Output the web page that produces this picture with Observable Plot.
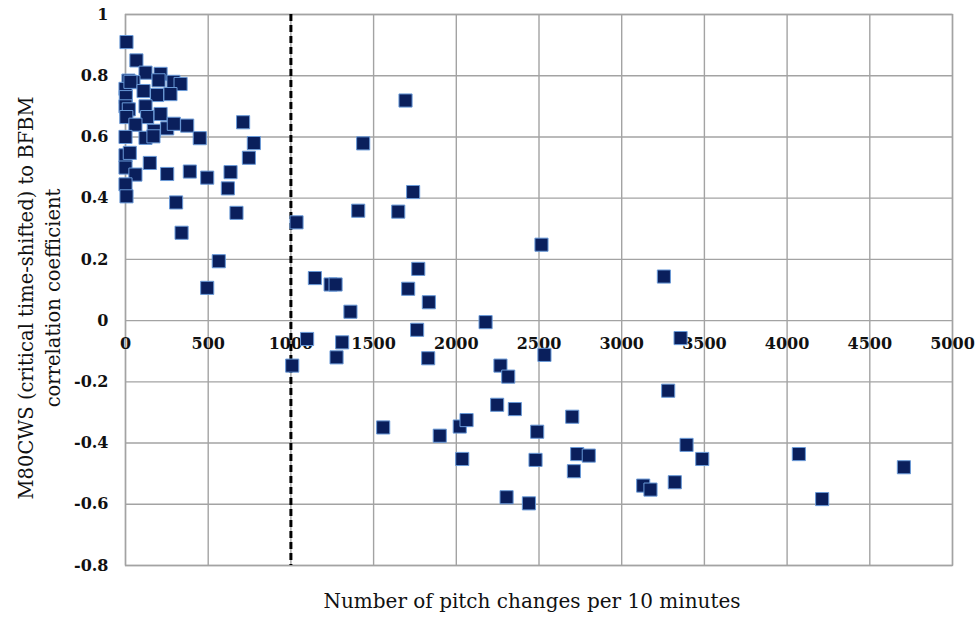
<!DOCTYPE html>
<html>
<head>
<meta charset="utf-8">
<script src="https://cdn.jsdelivr.net/npm/d3@7"></script>
<script src="https://cdn.jsdelivr.net/npm/@observablehq/plot@0.6"></script>
<style>
  html, body { margin: 0; padding: 0; background: #fff; }
</style>
</head>
<body>
<div id="chart"></div>
<script>
// Pitch-change rate per 10 minutes (x) and correlation coefficient (y), one entry per session
const pitchChanges = [
  6, 66, 121, 212, 18, 48, 200, 290, 333, 0, 30, 109, 191, 272, 2, 8, 0, 20, 121, 212,
  131, 5, 60, 171, 252, 292, 373, 0, 121, 169, 449, 711, 776, 746, 0, 26, 147, 0, 60, 252,
  389, 494, 635, 619, 0, 6, 306, 671, 339, 564, 494,
  1034, 1145, 1240, 1270, 1098, 1310, 1276, 1008, 1360, 1407, 1437, 1558,
  1649, 1693, 1709, 1739, 1763, 1770, 1830, 1834,
  1900, 2021, 2036, 2062, 2177, 2247, 2267, 2304, 2314, 2354, 2439, 2479, 2489, 2515, 2533,
  2701, 2711, 2731, 2801, 3130, 3174, 3255, 3281, 3321, 3356, 3392, 3487, 4071, 4212, 4706
];
const correlation = [
  0.91, 0.85, 0.81, 0.806, 0.784, 0.779, 0.785, 0.78, 0.773, 0.757, 0.78, 0.75, 0.737, 0.74, 0.73, 0.69, 0.70, 0.69, 0.70, 0.675,
  0.665, 0.665, 0.64, 0.62, 0.628, 0.643, 0.637, 0.60, 0.597, 0.602, 0.596, 0.648, 0.58, 0.532, 0.54, 0.548, 0.515, 0.50, 0.477, 0.479,
  0.487, 0.467, 0.485, 0.432, 0.445, 0.406, 0.386, 0.352, 0.287, 0.194, 0.107,
  0.321, 0.139, 0.118, 0.118, -0.06, -0.071, -0.12, -0.147, 0.029, 0.359, 0.579, -0.349,
  0.356, 0.719, 0.104, 0.42, -0.03, 0.169, -0.123, 0.06,
  -0.376, -0.346, -0.452, -0.325, -0.005, -0.275, -0.147, -0.577, -0.183, -0.289, -0.597, -0.455, -0.363, 0.248, -0.112,
  -0.314, -0.492, -0.436, -0.441, -0.539, -0.552, 0.144, -0.229, -0.528, -0.057, -0.406, -0.452, -0.436, -0.583, -0.479
];

// Axis ticks and the reference threshold
const xTicks = [0, 500, 1000, 1500, 2000, 2500, 3000, 3500, 4000, 4500, 5000];
const yTicks = [-0.8, -0.6, -0.4, -0.2, 0, 0.2, 0.4, 0.6, 0.8, 1];
const threshold = [1000];

const xLabel = "Number of pitch changes per 10 minutes";
const yLabel = "M80CWS (critical time-shifted) to BFBM\ncorrelation coefficient";

const points = pitchChanges.map((x, i) => ({x, y: correlation[i]}));

const gridColor = "#a3a3a3";
const textColor = "#111";

const chart = Plot.plot({
  width: 977,
  height: 622,
  marginLeft: 125,
  marginRight: 25,
  marginTop: 14,
  marginBottom: 57,
  style: {fontFamily: "'DejaVu Serif', serif", fontSize: "16px", color: textColor, background: "#fff"},
  x: {domain: [0, 5000], axis: null},
  y: {domain: [-0.8, 1], axis: null},
  marks: [
    Plot.gridX(xTicks, {stroke: gridColor, strokeOpacity: 1, strokeWidth: 1.4}),
    Plot.gridY(yTicks, {stroke: gridColor, strokeOpacity: 1, strokeWidth: 1.4}),
    Plot.frame({stroke: gridColor, strokeWidth: 1.4}),
    Plot.axisY(yTicks, {
      tickSize: 0, tickPadding: 17, label: null,
      tickFormat: d => String(d), fill: textColor, fontWeight: "bold", fontSize: 16
    }),
    Plot.text(xTicks, {
      x: d => d, y: () => 0, dy: 23, text: d => String(d),
      fill: textColor, fontWeight: "bold", fontSize: 16
    }),
    Plot.ruleX(threshold, {stroke: "#000", strokeWidth: 3, strokeDasharray: "7,4"}),
    Plot.dot(points, {
      x: "x", y: "y", symbol: "square", r: 7.4,
      fill: "#0a1f5c", fillOpacity: 1, stroke: "#6a9ad8", strokeWidth: 1
    }),
    Plot.text([yLabel], {
      frameAnchor: "left", textAnchor: "middle", lineAnchor: "middle",
      rotate: -90, dx: -88, dy: 8,
      text: d => d, fontSize: 19.5, lineHeight: 1.4, fill: textColor
    }),
    Plot.text([xLabel], {
      frameAnchor: "bottom", textAnchor: "middle", dx: -7, dy: 42,
      text: d => d, fontSize: 20, fill: textColor
    })
  ]
});

document.getElementById("chart").appendChild(chart);
</script>
</body>
</html>
